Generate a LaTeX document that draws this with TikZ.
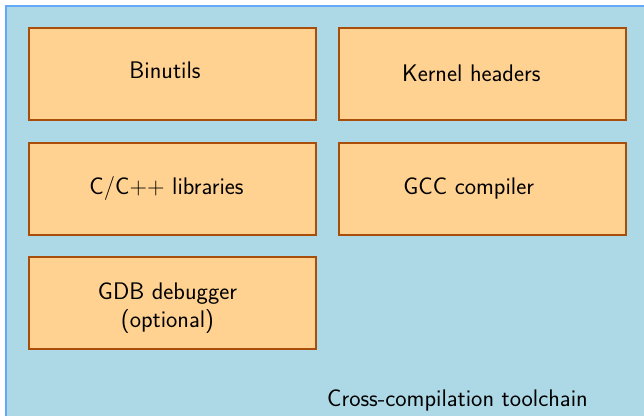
\documentclass[tikz,border=0pt]{standalone}
\definecolor{bgblue}{RGB}{173,216,230}
\definecolor{bgborder}{RGB}{100,168,250}
\definecolor{boxfill}{RGB}{255,210,145}
\definecolor{boxborder}{RGB}{168,78,10}
\tikzset{
  comp/.style={draw=boxborder, fill=boxfill, line width=1.5pt, minimum width=215.25pt, minimum height=69pt, inner sep=0pt, anchor=center},
  lbl/.style={font=\sffamily\fontsize{18}{21}\selectfont, text=black, inner sep=0pt},
}
\begin{document}
\begin{tikzpicture}[x=0.75pt, y=-0.75pt]
\useasboundingbox (0,0) rectangle (644,416);
\begin{scope}
\clip (0,0) rectangle (644,416);
\draw[draw=bgborder, fill=bgblue, line width=1.5pt] (6,6) rectangle (660,430);
\end{scope}
\node[comp] (bin) at (172,74.5) {};
\node[comp] (ker) at (482,74.5) {};
\node[comp] (lib) at (172,189.5) {};
\node[comp] (gcc) at (482,189.5) {};
\node[comp] (gdb) at (172,303.5) {};
\node[lbl, anchor=base] (binl) at (165,79) {Binutils};
\node[lbl, anchor=base] (kerl) at (471.3,82) {Kernel headers};
\node[lbl, anchor=base] (libl) at (166.5,195) {C/C++ libraries};
\node[lbl, anchor=base] (gccl) at (468.7,194.3) {GCC compiler};
\node[lbl, align=center, anchor=center] (gdbl) at (167.5,308) {GDB debugger\\(optional)};
\node[lbl, anchor=base] (title) at (457.5,406.7) {Cross-compilation toolchain};
\end{tikzpicture}
\end{document}
